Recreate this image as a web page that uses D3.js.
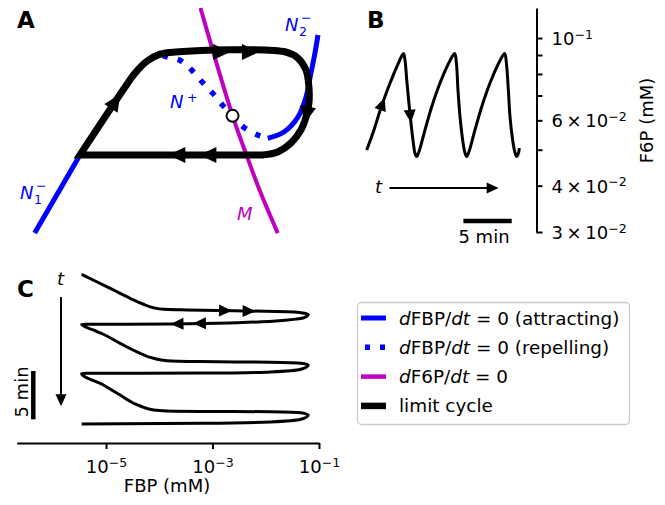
<!DOCTYPE html>
<html>
<head>
<meta charset="utf-8">
<script src="https://cdn.jsdelivr.net/npm/d3@7/dist/d3.min.js"></script>
<style>
body { margin: 0; background: #fff; }
text { font-family: "DejaVu Sans", sans-serif; }
</style>
</head>
<body>
<svg width="665" height="505"></svg>
<script>
// ---- panel A: phase plane, FBP and F6P in mM ----
var n1FBP = [4.57e-7, 3.24e-6];
var n1F6P = [0.0298, 0.0484];
var n2FBP = [1.09e-2, 2.19e-2, 4.02e-2, 5.69e-2, 7.06e-2, 8.41e-2, 9.57e-2];
var n2F6P = [0.0537, 0.0558, 0.0612, 0.0693, 0.0805, 0.0912, 0.1019];
var nPlusFBP = [1.09e-2, 7.06e-3, 3.85e-3, 2.38e-3, 1.55e-3, 1.0e-3, 6.47e-4, 4.20e-4, 2.60e-4, 1.42e-4, 9.57e-5];
var nPlusF6P = [0.0537, 0.0548, 0.0575, 0.0617, 0.0659, 0.0711, 0.0760, 0.0815, 0.0867, 0.0889, 0.0905];
var mFBP = [5.94e-4, 1.14e-3, 2.38e-3, 4.20e-3, 8.05e-3, 1.68e-2];
var mF6P = [0.1205, 0.0873, 0.0617, 0.0490, 0.0382, 0.0298];
var fixedFBP = 2.38e-3, fixedF6P = 0.0617;
// closed limit cycle (last point joins back to the first)
var cycleFBP = [3.24e-6, 2.28e-5, 3.52e-5, 5.94e-5, 1.04e-4, 2.00e-4, 2.38e-2, 4.02e-2,
                5.69e-2, 6.47e-2, 6.47e-2, 5.69e-2, 4.57e-2, 2.96e-2, 1.68e-2, 8.77e-3];
var cycleF6P = [0.0484, 0.0738, 0.0805, 0.0867, 0.0905, 0.0917, 0.0917, 0.0883,
                0.0820, 0.0738, 0.0668, 0.0612, 0.0565, 0.0521, 0.0493, 0.0484];
var cycleArrows = [{seg: 0, u: 0.79}, {seg: 5, u: 0.42}, {seg: 5, u: 0.68},
                   {seg: 10, u: 0.85}, {seg: 15, u: 0.30}, {seg: 15, u: 0.47}];

// ---- panel B: F6P against time (min) ----
var bTime = [0, 0.75, 1.45, 2.14, 2.82, 3.34, 3.80, 3.96, 4.14, 4.37, 4.62, 4.83, 4.99, 5.17,
             5.41, 5.93, 6.62, 7.31, 7.99, 8.61, 9.10, 9.28, 9.44, 9.65, 9.90, 10.13, 10.34,
             10.58, 11.10, 11.79, 12.48, 13.16, 13.78, 14.27, 14.45, 14.65, 14.82, 15.07, 15.31, 15.51, 15.69, 15.79];
var bF6P = [0.0499, 0.0565, 0.0646, 0.0724, 0.0803, 0.0863, 0.0909, 0.0873, 0.0771, 0.0667, 0.0577, 0.0520, 0.0489, 0.0479,
            0.0494, 0.0553, 0.0640, 0.0724, 0.0803, 0.0869, 0.0909, 0.0855, 0.0724, 0.0614, 0.0537, 0.0494, 0.0479,
            0.0494, 0.0553, 0.0640, 0.0724, 0.0803, 0.0869, 0.0909, 0.0855, 0.0724, 0.0614, 0.0537, 0.0494, 0.0479, 0.0489, 0.0505];
var bArrows = [{seg: 2, u: 0.25}, {seg: 9, u: 0.56}];
var bTicks = [0.03, 0.04, 0.05, 0.06, 0.07, 0.08, 0.09, 0.1];
var bLabelled = [0.03, 0.04, 0.06, 0.1];

// ---- panel C: FBP against time (min), time runs downwards ----
var cTime = [0, 0.77, 1.62, 2.48, 3.10, 3.45, 3.62, 3.69, 3.87, 3.97, 4.14, 4.49, 4.73, 5.01, 5.14, 5.17,
             5.76, 6.20, 7.14, 8.17, 8.69, 8.93, 9.02, 9.10, 9.20, 9.38, 9.82, 10.10, 10.22, 10.25,
             11.45, 12.48, 13.62, 14.03, 14.14, 14.18, 14.21, 14.31, 14.55, 14.99, 15.27, 15.41, 15.48];
var cFBP = [3.48e-6, 6.68e-6, 1.37e-5, 2.84e-5, 5.06e-5, 7.80e-5, 1.21e-4, 3.33e-4, 2.56e-2, 4.57e-2, 6.28e-2, 5.28e-2, 2.56e-2, 2.92e-3, 1.61e-4, 3.48e-6,
            5.75e-6, 8.89e-6, 1.84e-5, 4.39e-5, 7.80e-5, 1.40e-4, 5.94e-4, 1.24e-2, 4.57e-2, 6.28e-2, 4.57e-2, 1.24e-2, 6.85e-4, 3.48e-6,
            8.89e-6, 1.84e-5, 4.39e-5, 7.80e-5, 1.40e-4, 5.94e-4, 1.24e-2, 4.57e-2, 6.28e-2, 4.57e-2, 1.24e-2, 6.85e-4, 3.48e-6];
var cArrows = [{seg: 7, u: 0.383}, {seg: 7, u: 0.618}, {seg: 13, u: 0.565}, {seg: 13, u: 0.90}];
var cTicks = [1e-5, 1e-3, 1e-1];

var timeArrow = [2.35, 13.65];   // minutes
var scaleBar = [10, 15];         // 5 min
var legendLabels = ["$d$FBP/$dt$ = 0 (attracting)", "$d$FBP/$dt$ = 0 (repelling)", "$d$F6P/$dt$ = 0", "limit cycle"];

var blue = "#0000ff", magenta = "#bf00bf";
var svg = d3.select("svg");

// A shares its FBP axis with C and its F6P axis with B
var xFBP = d3.scaleLog().domain([2.1e-7, 0.1]).range([16.7, 319]);
var yF6P = d3.scaleLog().domain([0.03, 0.1205]).range([232, 8]);
var xTime = d3.scaleLinear().domain([0, 16]).range([366.7, 521.4]);
var yTime = d3.scaleLinear().domain([0, 16]).range([274.3, 429]);

var curve = d3.curveCatmullRom.alpha(0.5);
function zip(a, b) { return a.map(function(d, i) { return [d, b[i]]; }); }

var lineA = d3.line().x(function(d) { return xFBP(d[0]); }).y(function(d) { return yF6P(d[1]); }).curve(curve);
var lineB = d3.line().x(function(d) { return xTime(d[0]); }).y(function(d) { return yF6P(d[1]); }).curve(curve);
// time only increases downwards in C, so a y-monotone curve keeps the sharp turns
var lineC = d3.line().x(function(d) { return xFBP(d[1]); }).y(function(d) { return yTime(d[0]); }).curve(d3.curveMonotoneY);

function drawArrows(g, pts, arrows, len, half)
{
  g.selectAll(null)
   .data(arrows)
   .enter()
   .append("path")
   .attr("d", "M" + len/2 + ",0L" + (-len/2) + "," + half + "L" + (-len/2) + "," + (-half) + "Z")
   .attr("transform", function(d)
   {
     var a = pts[d.seg], b = pts[(d.seg + 1) % pts.length];
     var x = a[0] + d.u*(b[0] - a[0]), y = a[1] + d.u*(b[1] - a[1]);
     var ang = Math.atan2(b[1] - a[1], b[0] - a[0])*180/Math.PI;
     return "translate(" + x + "," + y + ") rotate(" + ang + ")";
   })
   .attr("fill", "black");
}

// text with $...$ parts in italics
function mathText(g, str, x, y, size, color, anchor)
{
  var t = g.append("text").attr("x", x).attr("y", y)
           .attr("font-size", size).attr("fill", color || "black")
           .attr("text-anchor", anchor || "start");
  str.split("$").forEach(function(part, i)
  {
    if (part === "") return;
    t.append("tspan").attr("font-style", i % 2 ? "italic" : "normal").text(part);
  });
  return t;
}

function powLabel(t, v)
{
  var e = Math.floor(Math.log10(v) + 1e-9);
  var m = Math.round(v/Math.pow(10, e));
  t.append("tspan").text(m === 1 ? "10" : m + "\u2009\u00d7\u200910");
  t.append("tspan").attr("dy", -6.5).attr("font-size", 12.6).text("\u2212" + Math.abs(e));
}

// ---------- panel A ----------
var gA = svg.append("g");
gA.append("path").attr("d", lineA(zip(n1FBP, n1F6P)))
  .attr("fill", "none").attr("stroke", blue).attr("stroke-width", 5);
gA.append("path").attr("d", lineA(zip(mFBP, mF6P)))
  .attr("fill", "none").attr("stroke", magenta).attr("stroke-width", 4);
gA.append("path").attr("d", lineA(zip(n2FBP, n2F6P)))
  .attr("fill", "none").attr("stroke", blue).attr("stroke-width", 5);
gA.append("path").attr("d", lineA(zip(nPlusFBP, nPlusF6P)))
  .attr("fill", "none").attr("stroke", blue).attr("stroke-width", 5.5)
  .attr("stroke-dasharray", "5.5,10").attr("stroke-dashoffset", 7.8);

var cyc = zip(cycleFBP, cycleF6P);
gA.append("path").attr("d", lineA(cyc) + "Z")
  .attr("fill", "none").attr("stroke", "black").attr("stroke-width", 7)
  .attr("stroke-linejoin", "miter");
drawArrows(gA, cyc.map(function(d) { return [xFBP(d[0]), yF6P(d[1])]; }), cycleArrows, 17, 8);

gA.append("circle").attr("cx", xFBP(fixedFBP)).attr("cy", yF6P(fixedF6P)).attr("r", 6)
  .attr("fill", "white").attr("stroke", "black").attr("stroke-width", 2);

function nullLabel(x, y, main, sub, sup, color)
{
  gA.append("text").attr("x", x).attr("y", y).attr("font-size", 18).attr("font-style", "italic")
    .attr("fill", color).text(main);
  if (sub) gA.append("text").attr("x", x + 14).attr("y", y + 4.5).attr("font-size", 12.6).attr("fill", color).text(sub);
  if (sup) gA.append("text").attr("x", x + (sub ? 16 : 17)).attr("y", y - (sub ? 9.5 : 6)).attr("font-size", 12.6).attr("fill", color).text(sup);
}
nullLabel(20, 199, "N", "1", "\u2212", blue);
nullLabel(285, 31, "N", "2", "\u2212", blue);
nullLabel(170, 108, "N", null, "+", blue);
nullLabel(237, 220, "M", null, null, magenta);

// ---------- panel B ----------
var gB = svg.append("g");
var bPts = zip(bTime, bF6P);
gB.append("path").attr("d", lineB(bPts))
  .attr("fill", "none").attr("stroke", "black").attr("stroke-width", 3);
drawArrows(gB, bPts.map(function(d) { return [xTime(d[0]), yF6P(d[1])]; }), bArrows, 13, 6);

var axB = gB.append("g").attr("transform", "translate(536.5,0)")
  .call(d3.axisRight(yF6P).tickValues(bTicks).tickSize(6).tickSizeOuter(0).tickFormat(""));
axB.select(".domain").attr("stroke-width", 2);
axB.selectAll(".tick line").attr("stroke-width", 2);
axB.selectAll(".tick")
   .filter(function(d) { return bLabelled.indexOf(d) >= 0; })
   .append("text").attr("x", 15).attr("y", 6.5).attr("font-size", 18)
   .attr("fill", "black").attr("text-anchor", "start")
   .each(function(d) { powLabel(d3.select(this), d); });
gB.append("text").attr("transform", "translate(653,120.5) rotate(-90)")
  .attr("font-size", 18).attr("text-anchor", "middle").text("F6P (mM)");

// time arrow and scale bar
var yArrowB = 188;
gB.append("line").attr("x1", xTime(timeArrow[0])).attr("x2", xTime(timeArrow[1]) - 8)
  .attr("y1", yArrowB).attr("y2", yArrowB).attr("stroke", "black").attr("stroke-width", 2);
gB.append("path").attr("d", "M0,0L-12,-5.5L-12,5.5Z")
  .attr("transform", "translate(" + xTime(timeArrow[1]) + "," + yArrowB + ")");
mathText(gB, "$t$", 375, 193, 18);
gB.append("line").attr("x1", xTime(scaleBar[0])).attr("x2", xTime(scaleBar[1]))
  .attr("y1", 221).attr("y2", 221).attr("stroke", "black").attr("stroke-width", 4.5);
gB.append("text").attr("x", 484).attr("y", 243).attr("font-size", 18)
  .attr("text-anchor", "middle").text("5 min");

// ---------- panel C ----------
var gC = svg.append("g");
var cPts = zip(cTime, cFBP);
gC.append("path").attr("d", lineC(cPts))
  .attr("fill", "none").attr("stroke", "black").attr("stroke-width", 3);
drawArrows(gC, cPts.map(function(d) { return [xFBP(d[1]), yTime(d[0])]; }), cArrows, 13, 6);

var axC = gC.append("g").attr("transform", "translate(0,443)")
  .call(d3.axisBottom(xFBP).tickValues(cTicks).tickSize(6).tickSizeOuter(0).tickFormat(""));
axC.select(".domain").attr("stroke-width", 2);
axC.selectAll(".tick line").attr("stroke-width", 2);
axC.selectAll(".tick").append("text").attr("x", 0).attr("y", 30).attr("font-size", 18)
   .attr("fill", "black").attr("text-anchor", "middle")
   .each(function(d) { powLabel(d3.select(this), d); });
gC.append("text").attr("x", 167).attr("y", 491.5).attr("font-size", 18)
  .attr("text-anchor", "middle").text("FBP (mM)");

var xArrowC = 61;
gC.append("line").attr("x1", xArrowC).attr("x2", xArrowC)
  .attr("y1", yTime(timeArrow[0])).attr("y2", yTime(timeArrow[1]) - 8)
  .attr("stroke", "black").attr("stroke-width", 2);
gC.append("path").attr("d", "M0,0L-5.5,-12L5.5,-12Z")
  .attr("transform", "translate(" + xArrowC + "," + yTime(timeArrow[1]) + ")");
mathText(gC, "$t$", 57, 285, 18);
gC.append("line").attr("x1", 33.3).attr("x2", 33.3)
  .attr("y1", yTime(scaleBar[0])).attr("y2", yTime(scaleBar[1]))
  .attr("stroke", "black").attr("stroke-width", 4.5);
gC.append("text").attr("transform", "translate(28,392) rotate(-90)")
  .attr("font-size", 18).attr("text-anchor", "middle").text("5 min");

// panel letters
[["A", 17, 28], ["B", 367, 28], ["C", 17, 297]].forEach(function(p)
{
  svg.append("text").attr("x", p[1]).attr("y", p[2]).attr("font-size", 23)
     .attr("font-weight", "bold").text(p[0]);
});

// ---------- legend ----------
var legendStyles = [
  {stroke: blue, width: 5},
  {stroke: blue, width: 5.5, dash: "5,10", offset: 11},
  {stroke: magenta, width: 4.5},
  {stroke: "black", width: 6.5}
];
var gL = svg.append("g");
gL.append("rect").attr("x", 357.5).attr("y", 302.5).attr("width", 272).attr("height", 122)
  .attr("rx", 4).attr("fill", "white").attr("stroke", "#cccccc").attr("stroke-width", 1.3);
legendLabels.forEach(function(lab, i)
{
  var y = 318 + i*29.3;
  var s = legendStyles[i];
  gL.append("line").attr("x1", 361).attr("x2", 386).attr("y1", y).attr("y2", y)
    .attr("stroke", s.stroke).attr("stroke-width", s.width)
    .attr("stroke-dasharray", s.dash || null).attr("stroke-dashoffset", s.offset || null);
  mathText(gL, lab, 399, y + 6.5, 18.4);
});
</script>
</body>
</html>
